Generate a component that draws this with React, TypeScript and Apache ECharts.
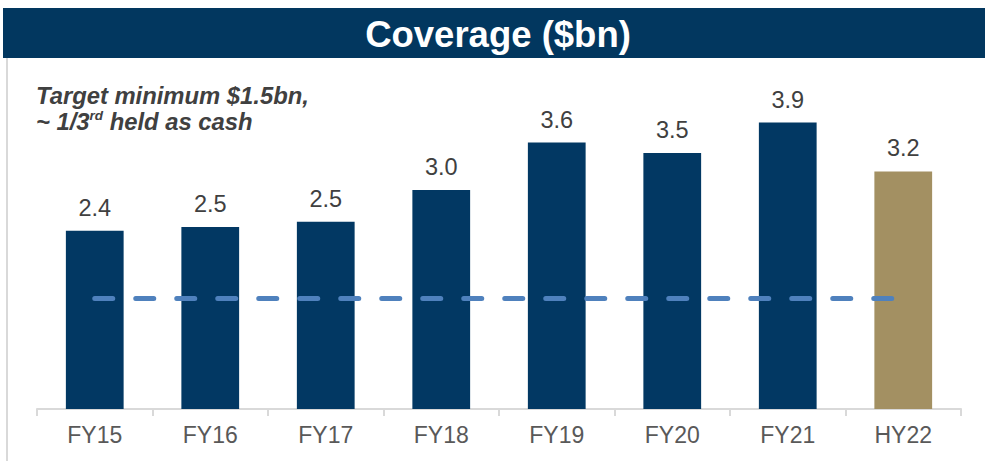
import React, { useEffect, useRef } from 'react';
import * as echarts from 'echarts';

const categories = ['FY15', 'FY16', 'FY17', 'FY18', 'FY19', 'FY20', 'FY21', 'HY22'];
const coverage = [2.41, 2.46, 2.53, 2.96, 3.6, 3.46, 3.87, 3.21];
const highlighted = ['HY22'];
const targetMinimum = 1.5;
const titleText = 'Coverage ($bn)';
const noteLine1 = 'Target minimum $1.5bn,';
const noteLine2Start = '~ 1/3';
const noteSup = 'rd';
const noteLine2End = ' held as cash';

const NAVY = '#023863';
const TAN = '#a39062';
const FONT = '"Liberation Sans", Arial, sans-serif';

export default function App() {
  const ref = useRef<HTMLDivElement>(null);

  useEffect(() => {
    if (!ref.current) return;
    const chart = echarts.init(ref.current, undefined, { renderer: 'svg' });
    const option: any = {
      animation: false,
      backgroundColor: '#ffffff',
      textStyle: { fontFamily: FONT },
      grid: { left: 37, right: 24, top: 76, bottom: 52, containLabel: false },
      xAxis: {
        type: 'category',
        data: categories,
        axisLine: { show: true, lineStyle: { color: '#d9d9d9', width: 2 } },
        axisTick: { show: true, alignWithLabel: false, length: 7, lineStyle: { color: '#d9d9d9', width: 2 } },
        axisLabel: { fontSize: 23, color: '#595959', margin: 14, fontFamily: FONT },
      },
      yAxis: {
        type: 'value',
        min: 0,
        max: 4.5,
        show: false,
        splitLine: { show: false },
      },
      series: [
        {
          type: 'bar',
          barWidth: '50%',
          data: coverage.map((v, i) => ({
            value: v,
            itemStyle: { color: highlighted.includes(categories[i]) ? TAN : NAVY },
          })),
          label: {
            show: true,
            position: 'top',
            distance: 11,
            fontSize: 23.5,
            color: '#404040',
            fontFamily: FONT,
            formatter: (p: any) => Number(p.value).toFixed(1),
          },
          markLine: {
            silent: true,
            symbol: ['none', 'none'],
            label: { show: false },
            lineStyle: { color: '#4f81bd', width: 5, type: [18, 23], cap: 'round' },
            data: [
              [
                { coord: [categories[0], targetMinimum] },
                { coord: [categories[categories.length - 1], targetMinimum] },
              ],
            ],
          },
        },
      ],
      graphic: [
        {
          type: 'rect',
          shape: { x: 3, y: 8, width: 982, height: 50 },
          style: { fill: '#02375f' },
          z: 10,
        },
        {
          type: 'text',
          x: 498,
          y: 34,
          z: 11,
          style: {
            text: titleText,
            fill: '#ffffff',
            font: `bold 36.5px ${FONT}`,
            align: 'center',
            verticalAlign: 'middle',
          },
        },
        {
          type: 'line',
          shape: { x1: 7, y1: 58, x2: 7, y2: 461 },
          style: { stroke: '#d9d9d9', lineWidth: 2 },
          z: 5,
        },
        {
          type: 'text',
          x: 36,
          y: 82,
          z: 11,
          style: {
            text: `{a|${noteLine1}}\n{a|${noteLine2Start}}{s|${noteSup}}{a|${noteLine2End}}`,
            verticalAlign: 'top',
            align: 'left',
            rich: {
              a: {
                fontSize: 23.8,
                fontWeight: 'bold',
                fontStyle: 'italic',
                fill: '#404040',
                color: '#404040',
                lineHeight: 26,
                fontFamily: FONT,
              },
              s: {
                fontSize: 13.5,
                fontWeight: 'bold',
                fontStyle: 'italic',
                fill: '#404040',
                color: '#404040',
                lineHeight: 14,
                verticalAlign: 'top',
                fontFamily: FONT,
              },
            },
          },
        },
      ],
    };
    chart.setOption(option);
    return () => chart.dispose();
  }, []);

  return (
    <div
      ref={ref}
      style={{ position: 'fixed', left: 0, top: 0, width: 985, height: 461 }}
    />
  );
}
